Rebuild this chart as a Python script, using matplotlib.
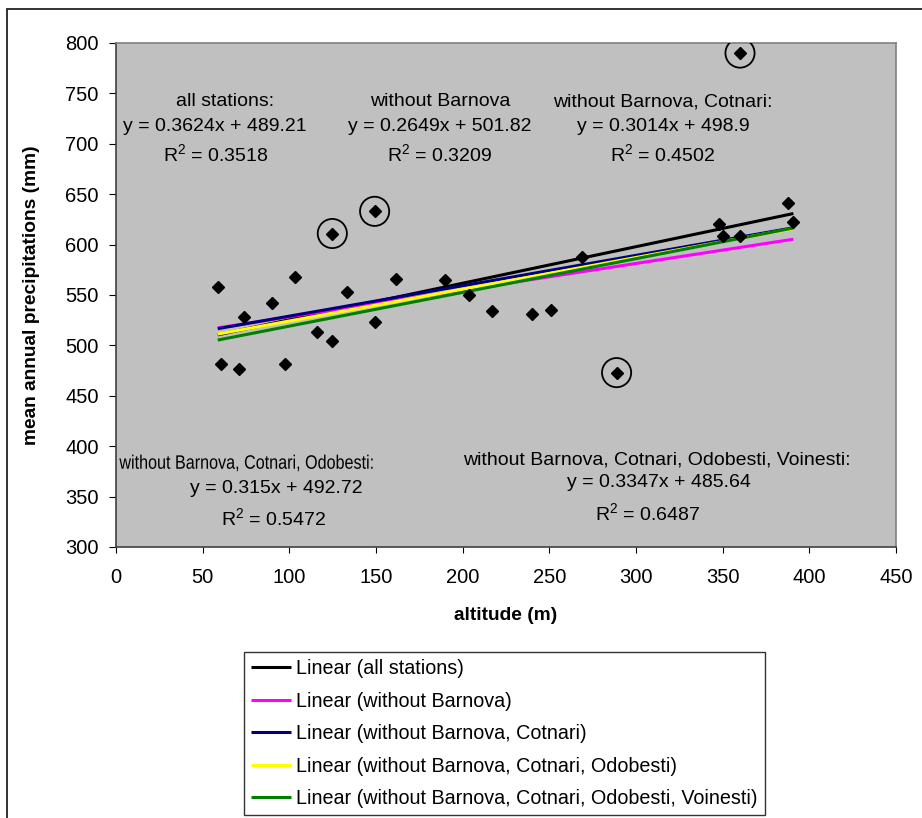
import matplotlib
matplotlib.use('Agg')
import numpy as np
import matplotlib.pyplot as plt
from matplotlib import transforms
from matplotlib.patches import Rectangle, PathPatch
from matplotlib.textpath import TextPath
from matplotlib.font_manager import FontProperties

plt.rcParams['font.family'] = ['Liberation Sans', 'DejaVu Sans']
plt.rcParams['mathtext.fontset'] = 'custom'
plt.rcParams['mathtext.rm'] = 'Liberation Sans'

# stations: altitude (m) / mean annual precipitations (mm)
altitude = [58.7, 60.6, 71.0, 73.7, 89.8, 97.3, 103.1, 116.1, 124.8, 124.8,
            133.3, 149.2, 149.2, 161.4, 189.8, 203.8, 217.1, 240.2, 251.0,
            268.8, 288.8, 348.1, 350.0, 360.2, 360.0, 387.7, 390.8]
precip = [558, 482, 477, 528, 542, 482, 568, 513, 504, 611,
          553, 633, 523, 566, 565, 550, 534, 531, 535,
          588, 473, 620, 609, 609, 790, 641, 622]

# removed stations (circled): Odobesti/Voinesti, Cotnari, Barnova
circled_alt = [124.8, 149.2, 288.8, 360.0]
circled_prec = [611, 633, 473, 790]

# trendlines
trend_names = ['all stations', 'without Barnova', 'without Barnova, Cotnari',
               'without Barnova, Cotnari, Odobesti',
               'without Barnova, Cotnari, Odobesti, Voinesti']
slopes = [0.3624, 0.2649, 0.3014, 0.315, 0.3347]
intercepts = [489.21, 501.82, 498.9, 492.72, 485.64]
r2 = ['0.3518', '0.3209', '0.4502', '0.5472', '0.6487']
colors = ['black', '#FF00FF', '#000080', '#FFFF00', '#008000']

FS = 14.5      # ticks
FS_TXT = 14    # equations on the plot

fig = plt.figure(figsize=(9.22, 8.18), dpi=100)
ax = fig.add_axes([116 / 922, 1 - 547 / 818, 780 / 922, 504 / 818])
ax.set_facecolor('#C0C0C0')

xs = np.array([min(altitude), max(altitude)])
handles = []
for name, k, b, c in zip(trend_names, slopes, intercepts, colors):
    ln, = ax.plot(xs, k * xs + b, color=c, lw=2.2, solid_capstyle='butt',
                  label='Linear (%s)' % name, zorder=2)
    handles.append(ln)

ax.plot(altitude, precip, 'D', color='black', ms=6.5, zorder=3)
ax.scatter(circled_alt, circled_prec, s=21 ** 2, facecolors='none',
           edgecolors='black', linewidths=1.3, zorder=3)

ax.set_xlim(0, 450)
ax.set_ylim(300, 800)
ax.set_xticks(range(0, 451, 50))
ax.set_yticks(range(300, 801, 50))
ax.tick_params(axis='both', direction='out', labelsize=FS, colors='black')
ax.tick_params(axis='x', length=4.5, pad=10.5)
ax.tick_params(axis='y', length=5, pad=7.5)
for s in ['top', 'right']:
    ax.spines[s].set_color('#808080')
for s in ['left', 'bottom']:
    ax.spines[s].set_color('#404040')
for s in ax.spines.values():
    s.set_linewidth(1.2)

ax.set_xlabel('altitude (m)', fontsize=13.8, fontweight='bold')
ax.xaxis.set_label_coords(0.5, -0.119)
ax.set_ylabel('mean annual precipitations (mm)', fontsize=13.8, fontweight='bold')
ax.yaxis.set_label_coords(-0.097, 0.5)

# trendline labels, three lines each (header, equation, R2)
def eq(i):
    return 'y = %sx + %s' % (slopes[i], intercepts[i])

def rsq(i):
    return 'R$^2$ = %s' % r2[i]

label_rows = [
    [('all stations:', 62.9, 741.5), (eq(0), 57.1, 716.7), (rsq(0), 57.7, 688.9)],
    [('without Barnova', 186.9, 741.5), (eq(1), 186.9, 716.7), (rsq(1), 186.9, 688.9)],
    [('without Barnova, Cotnari:', 315.6, 741.5), (eq(2), 315.6, 716.7), (rsq(2), 315.6, 688.9)],
    [(eq(3), 92.3, 357.6), (rsq(3), 91.1, 327.8)],
    [('without Barnova, Cotnari, Odobesti, Voinesti:', 312.1, 386.3), (eq(4), 313.3, 363.5), (rsq(4), 306.9, 332.8)],
]
for rows in label_rows:
    for txt, x, y in rows:
        ax.text(x, y, txt, ha='center', va='center', fontsize=FS_TXT, zorder=4)

# header of the bottom-left label is squeezed horizontally in the original
tp = TextPath((0, 0), 'without Barnova, Cotnari, Odobesti:', size=FS_TXT,
              prop=FontProperties(family='Liberation Sans'))
bb = tp.get_extents()
tr = (transforms.Affine2D().translate(-(bb.x0 + bb.x1) / 2, -(bb.y0 + bb.y1) / 2)
      .scale(0.83 / 72, 1 / 72)
      + fig.dpi_scale_trans
      + transforms.ScaledTranslation(75.0, 383.4, ax.transData))
ax.add_patch(PathPatch(tp, transform=tr, facecolor='black', lw=0, zorder=4))

leg = fig.legend(handles=handles, loc='upper left',
                 bbox_to_anchor=(244 / 922, 1 - 652 / 818), fontsize=14.2,
                 frameon=True, fancybox=False, edgecolor='black',
                 handlelength=2.05, handletextpad=0.25, labelspacing=0.69,
                 borderpad=0.35, borderaxespad=0)
leg.get_frame().set_linewidth(1.0)

# outer chart border
fig.add_artist(Rectangle((7 / 922, -0.1), 1.2, 1 - 9 / 818 + 0.1,
                         transform=fig.transFigure, fill=False,
                         edgecolor='#222222', lw=1.3))

fig.savefig('out.png', dpi=100)
